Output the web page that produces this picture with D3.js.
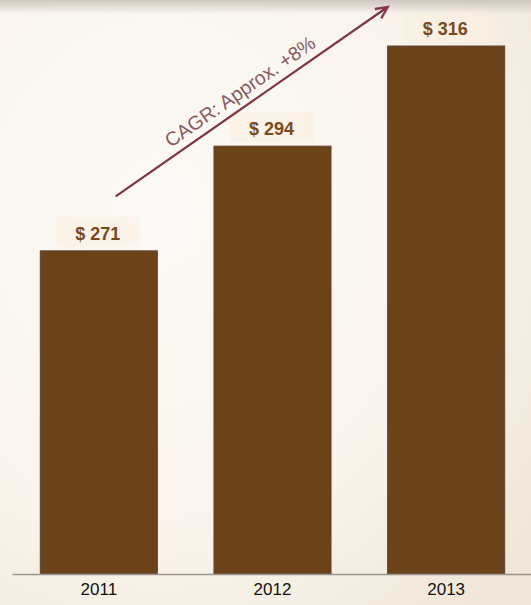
<!DOCTYPE html>
<html><head><meta charset="utf-8">
<script src="https://cdn.jsdelivr.net/npm/d3@7"></script>
<style>html,body{margin:0;padding:0;background:#faf6f0;}svg{display:block;}</style>
</head><body>
<svg id="chart" width="531" height="605"></svg>
<script>
const categories = ["2011", "2012", "2013"];
const values = [271, 294, 316];
const valueLabels = ["$ 271", "$ 294", "$ 316"];
const annotation = "CAGR: Approx. +8%";

const W = 531, H = 605;
const svg = d3.select("#chart");
const defs = svg.append("defs");

// background parchment
const bg = defs.append("radialGradient").attr("id","bg").attr("cx","30%").attr("cy","35%").attr("r","90%");
bg.append("stop").attr("offset","0%").attr("stop-color","#fcfaf6");
bg.append("stop").attr("offset","60%").attr("stop-color","#f9f4ec");
bg.append("stop").attr("offset","100%").attr("stop-color","#efe5d8");
svg.append("rect").attr("width",W).attr("height",H).attr("fill","url(#bg)");
const topGrad = defs.append("linearGradient").attr("id","topg").attr("x1",0).attr("y1",0).attr("x2",0).attr("y2",1);
topGrad.append("stop").attr("offset","0%").attr("stop-color","#cfc7bf");
topGrad.append("stop").attr("offset","100%").attr("stop-color","#cfc7bf").attr("stop-opacity",0);
svg.append("rect").attr("width",W).attr("height",14).attr("fill","url(#topg)");

const x = d3.scaleBand().domain(categories).range([12, 533]).paddingInner(0.326).paddingOuter(0.163);
const y = d3.scaleLinear().domain([200, 316]).range([574, 46]);

// bars
svg.selectAll("rect.bar").data(values).join("rect").attr("class","bar")
  .attr("x",(d,i)=>x(categories[i]))
  .attr("y",d=>y(d))
  .attr("width",x.bandwidth())
  .attr("height",d=>y(200)-y(d))
  .attr("fill","#6c4219")
  .attr("stroke","#5f4632").attr("stroke-width",1);

// axis
const axis = d3.axisBottom(x).tickSize(0).tickPadding(9);
const gx = svg.append("g").attr("transform",`translate(0,${y(200)})`).call(axis);
gx.select(".domain").attr("stroke","#9a958f").attr("stroke-width",1.5);
gx.selectAll("text").attr("font-family","Liberation Sans, Arial, sans-serif").attr("font-size",17).attr("fill","#111");

// value labels with soft backgrounds
const lg = svg.selectAll("g.lbl").data(values).join("g").attr("class","lbl")
  .attr("transform",(d,i)=>`translate(${x(categories[i])+x.bandwidth()/2 - 1},${y(d)-11})`);
lg.append("rect").attr("x",-42).attr("y",-23).attr("width",84).attr("height",30)
  .attr("fill","#fbeee0").attr("opacity",0.55);
lg.append("text").attr("text-anchor","middle")
  .attr("font-family","Liberation Sans, Arial, sans-serif").attr("font-weight","bold").attr("font-size",18)
  .attr("fill","#7a4a1c").text((d,i)=>valueLabels[i]);

// CAGR arrow
const x0 = x(categories[0]) + x.bandwidth()*0.65, y0 = y(values[0]) - 55;
const x1 = x(categories[2]), y1 = 7;
const ang = Math.atan2(y1-y0, x1-x0);
svg.append("line").attr("x1",x0).attr("y1",y0).attr("x2",x1).attr("y2",y1)
  .attr("stroke","#7e3445").attr("stroke-width",2.2).attr("stroke-linecap","round");
const hl = 13, ha = 0.45;
svg.append("path")
  .attr("d",`M${x1-hl*Math.cos(ang-ha)},${y1-hl*Math.sin(ang-ha)}L${x1},${y1}L${x1-hl*Math.cos(ang+ha)},${y1-hl*Math.sin(ang+ha)}`)
  .attr("fill","none").attr("stroke","#8a3a4c").attr("stroke-width",2.4).attr("stroke-linejoin","miter");
const mx = (x0+x1)/2 - 3, my = (y0+y1)/2 + 3;
svg.append("text")
  .attr("transform",`translate(${mx},${my}) rotate(${ang*180/Math.PI}) translate(0,-9)`)
  .attr("text-anchor","middle")
  .attr("font-family","Liberation Sans, Arial, sans-serif").attr("font-size",19.5)
  .attr("fill","#8a5a60").text(annotation);
</script>
</body></html>
